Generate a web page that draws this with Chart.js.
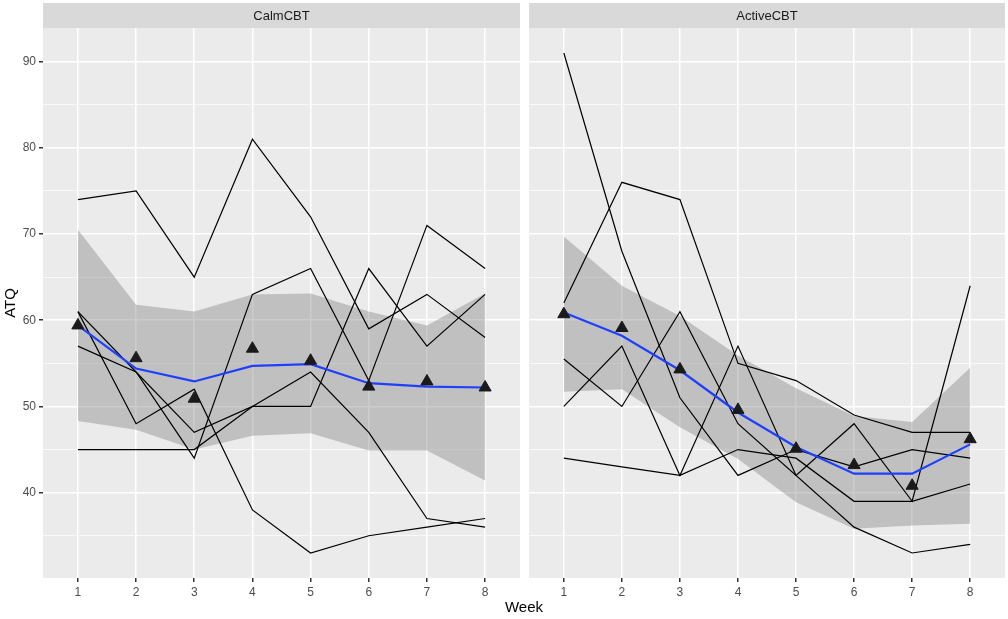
<!DOCTYPE html>
<html>
<head>
<meta charset="utf-8">
<script src="https://cdn.jsdelivr.net/npm/chart.js@4.4.1/dist/chart.umd.min.js"></script>
<style>
  body { margin: 0; background: #fff; }
  #wrap { position: relative; width: 1008px; height: 619px; font-family: "Liberation Sans", Arial, sans-serif; }
  canvas { position: absolute; top: 0; }
  #calm { left: 0; }
  #active { left: 524px; }
  #xtitle { position: absolute; left: 43px; width: 962px; top: 598px; text-align: center; font-size: 15px; color: #000; }
</style>
</head>
<body>
<div id="wrap">
  <canvas id="calm" width="524" height="619"></canvas>
  <canvas id="active" width="484" height="619"></canvas>
  <div id="xtitle">Week</div>
</div>
<script>
// weeks and y ticks
const weeks = [1, 2, 3, 4, 5, 6, 7, 8];
const yTicks = [35, 40, 45, 50, 55, 60, 65, 70, 75, 80, 85, 90];

// CalmCBT - individual participants
const calmS1 = [74, 75, 65, 81, 72, 59, 63, 58];
const calmS2 = [61, 54, 44, 63, 66, 53, 71, 66];
const calmS3 = [57, 54, 47, 50, 50, 66, 57, 63];
const calmS4 = [45, 45, 45, 50, 54, 47, 37, 36];
const calmS5 = [61, 48, 52, 38, 33, 35, 36, 37];
// CalmCBT - weekly means, model fit and band
const calmMean = [59.4, 55.6, 50.9, 56.7, 55.3, 52.3, 52.9, 52.2];
const calmFit = [59.4, 54.4, 52.9, 54.7, 54.9, 52.7, 52.3, 52.2];
const calmUpper = [70.5, 61.8, 61.0, 63.0, 63.1, 61.0, 59.4, 63.1];
const calmLower = [48.3, 47.3, 45.0, 46.6, 46.9, 44.9, 44.9, 41.4];

// ActiveCBT - individual participants
const activeS1 = [62, 76, 74, 55, 53, 49, 47, 47];
const activeS2 = [91, 68, 51, 42, 45, 43, 45, 44];
const activeS3 = [55.5, 50, 61, 48, 42, 48, 39, 64];
const activeS4 = [50, 57, 42, 57, 42, 36, 33, 34];
const activeS5 = [44, 43, 42, 45, 44, 39, 39, 41];
// ActiveCBT - weekly means, model fit and band
const activeMean = [60.7, 59.1, 54.3, 49.6, 45.1, 43.2, 40.8, 46.2];
const activeFit = [60.9, 58.2, 54.2, 49.3, 45.3, 42.2, 42.2, 45.6];
const activeUpper = [69.7, 64.0, 60.5, 55.9, 52.1, 48.9, 48.2, 54.5];
const activeLower = [51.7, 52.0, 47.6, 43.9, 38.9, 35.8, 36.2, 36.4];

Chart.defaults.font.family = '"Liberation Sans", Arial, sans-serif';

// pair each value with its week
const pts = arr => weeks.map((w, i) => ({ x: w, y: arr[i] }));

// grey panel background + facet strip on top
const stripPlugin = {
  id: 'strip',
  beforeDraw(chart, args, opts) {
    const { ctx, chartArea: a } = chart;
    ctx.save();
    ctx.fillStyle = '#ebebeb';
    ctx.fillRect(a.left, a.top, a.right - a.left, a.bottom - a.top);
    ctx.fillStyle = '#d9d9d9';
    ctx.fillRect(a.left, 3, a.right - a.left, a.top - 3);
    ctx.fillStyle = '#1a1a1a';
    ctx.font = '13px "Liberation Sans", Arial, sans-serif';
    ctx.textAlign = 'center';
    ctx.textBaseline = 'middle';
    ctx.fillText(opts.label, (a.left + a.right) / 2, 16);
    ctx.restore();
  }
};

function buildDatasets(subjects, mean, fit, upper, lower) {
  const sets = [
    { data: pts(lower), borderColor: 'rgba(0,0,0,0)', borderWidth: 0, pointRadius: 0, fill: false, order: 5 },
    { data: pts(upper), borderColor: 'rgba(0,0,0,0)', borderWidth: 0, pointRadius: 0,
      fill: 0, backgroundColor: 'rgba(127,127,127,0.4)', order: 4 }
  ];
  subjects.forEach(s => sets.push({
    data: pts(s), borderColor: '#000', borderWidth: 1.2, pointRadius: 0, fill: false, order: 3
  }));
  sets.push({ data: pts(fit), borderColor: '#1f3fff', borderWidth: 2.2, pointRadius: 0, fill: false, order: 2 });
  sets.push({ data: pts(mean), showLine: false, pointStyle: 'triangle', pointRadius: 7,
    backgroundColor: '#1a1a1a', borderColor: '#1a1a1a', borderWidth: 1, order: 1 });
  return sets;
}

function panelOptions(showY, label) {
  return {
    responsive: false,
    animation: false,
    layout: { autoPadding: false, padding: { top: 28, right: showY ? 4 : 3, left: 0, bottom: 0 } },
    plugins: {
      legend: { display: false },
      tooltip: { enabled: false },
      strip: { label: label }
    },
    scales: {
      x: {
        type: 'linear', min: 0.4, max: 8.6,
        afterBuildTicks: s => { s.ticks = weeks.map(v => ({ value: v })); },
        afterFit: s => { s.height = 41; s.paddingLeft = 0; s.paddingRight = 0; },
        grid: { color: '#fff', lineWidth: 1.5, tickColor: '#333', tickLength: 4 },
        border: { display: false },
        ticks: { color: '#4d4d4d', font: { size: 12 }, padding: 3, autoSkip: false, maxRotation: 0 }
      },
      y: {
        min: 30.1, max: 93.9,
        afterBuildTicks: s => { s.ticks = yTicks.map(v => ({ value: v })); },
        afterFit: s => { s.width = showY ? 43 : 5; s.paddingTop = 0; s.paddingBottom = 0; },
        grid: {
          color: '#fff',
          lineWidth: c => (c.tick && c.tick.value % 10 === 0) ? 1.5 : 0.7,
          tickColor: c => (showY && c.tick && c.tick.value % 10 === 0) ? '#333' : 'rgba(0,0,0,0)',
          tickLength: showY ? 4 : 0
        },
        border: { display: false },
        ticks: {
          display: showY, color: '#4d4d4d', font: { size: 12 }, padding: 3,
          callback: v => (v % 10 === 0 ? v : '')
        },
        title: { display: showY, text: 'ATQ', color: '#000', font: { size: 15 }, padding: 2 }
      }
    }
  };
}

new Chart(document.getElementById('calm'), {
  type: 'line',
  data: { datasets: buildDatasets([calmS1, calmS2, calmS3, calmS4, calmS5], calmMean, calmFit, calmUpper, calmLower) },
  options: panelOptions(true, 'CalmCBT'),
  plugins: [stripPlugin]
});

new Chart(document.getElementById('active'), {
  type: 'line',
  data: { datasets: buildDatasets([activeS1, activeS2, activeS3, activeS4, activeS5], activeMean, activeFit, activeUpper, activeLower) },
  options: panelOptions(false, 'ActiveCBT'),
  plugins: [stripPlugin]
});
</script>
</body>
</html>
